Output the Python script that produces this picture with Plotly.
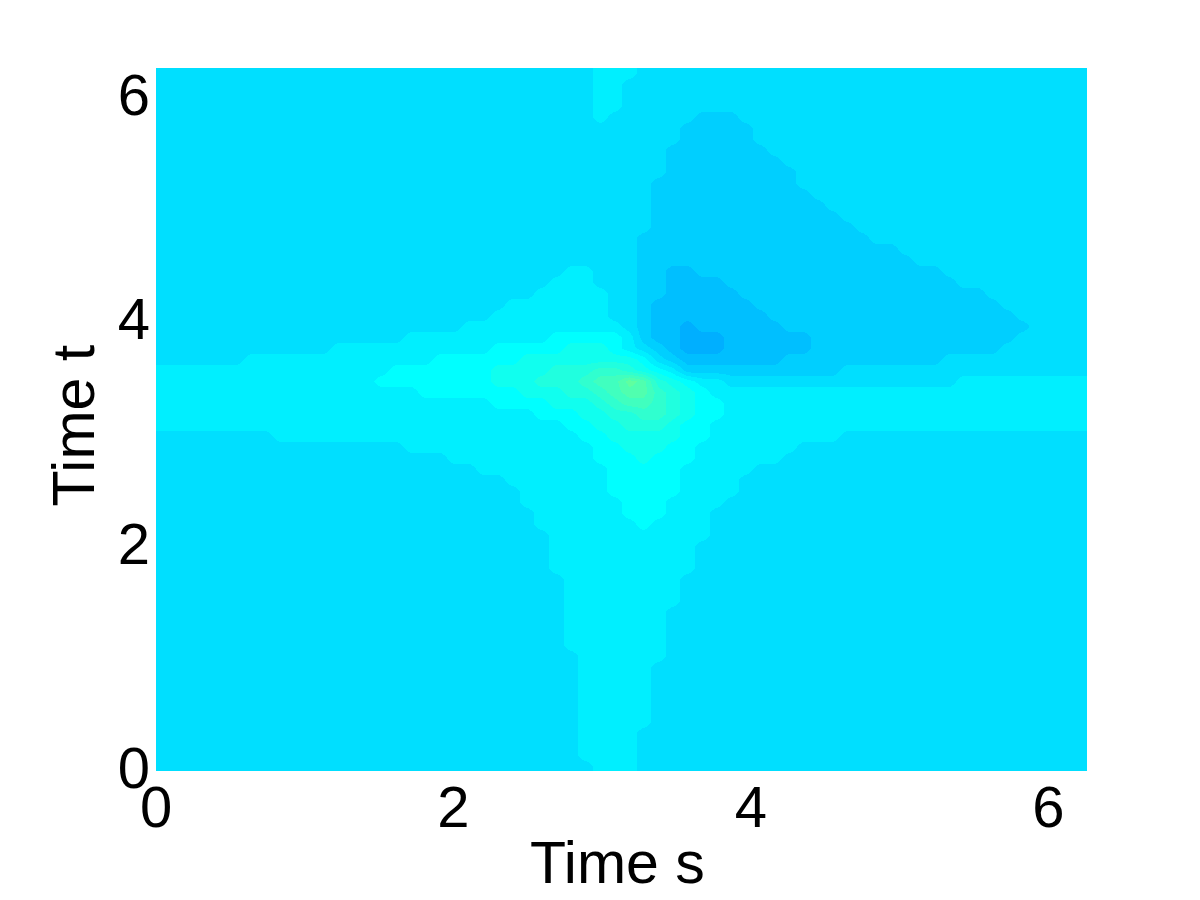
import plotly.graph_objects as go

TITLE_X = "Time s"
TITLE_Y = "Time t"
TICKS = [0, 2, 4, 6]
AXIS_MAX = 6.26
LEVEL_COLORS = {
    "a": "#00afff", "b": "#00bfff", "c": "#00cfff", "0": "#00dfff", "1": "#00efff",
    "2": "#00ffff", "3": "#10ffef", "4": "#20ffdf", "5": "#30ffcf", "6": "#40ffbf",
    "7": "#50ffaf", "8": "#60ff9f",
}
LEVEL_VALUES = {"a": -3, "b": -2, "c": -1, "0": 0, "1": 1, "2": 2, "3": 3, "4": 4,
                "5": 5, "6": 6, "7": 7, "8": 8}
Z = "00000000"
O = "11111111"
C = "cccccccc"
ROWS = [
    [Z, Z, Z, "00000011", "10000000", Z, Z, Z],
    [Z, Z, Z, "00000011", Z, Z, Z, Z],
    [Z, Z, Z, "00000011", Z, Z, Z, Z],
    [Z, Z, Z, "00000011", Z, Z, Z, Z],
    [Z, Z, Z, "00000010", "00000ccc", Z, Z, Z],
    [Z, Z, Z, Z, "0000cccc", "c0000000", Z, Z],
    [Z, Z, Z, Z, "0000cccc", "c0000000", Z, Z],
    [Z, Z, Z, Z, "000ccccc", "cc000000", Z, Z],
    [Z, Z, Z, Z, "000ccccc", "ccc00000", Z, Z],
    [Z, Z, Z, Z, "000ccccc", "cccc0000", Z, Z],
    [Z, Z, Z, Z, "00cccccc", "cccc0000", Z, Z],
    [Z, Z, Z, Z, "00cccccc", "ccccc000", Z, Z],
    [Z, Z, Z, Z, "00cccccc", "cccccc00", Z, Z],
    [Z, Z, Z, Z, "00cccccc", "ccccccc0", Z, Z],
    [Z, Z, Z, Z, "00cccccc", C, Z, Z],
    [Z, Z, Z, Z, "0ccccccc", C, "c0000000", Z],
    [Z, Z, Z, Z, "0ccccccc", C, "ccc00000", Z],
    [Z, Z, Z, Z, "0ccccccc", C, "cccc0000", Z],
    [Z, Z, Z, "00001100", "0ccbbccc", C, "cccccc00", Z],
    [Z, Z, Z, "00011100", "0ccbbbbc", C, "ccccccc0", Z],
    [Z, Z, Z, "00111110", "0ccbbbbb", C, C, "c0000000"],
    [Z, Z, Z, "11111110", "0cbbbbbb", "bccccccc", C, "cc000000"],
    [Z, Z, "00000001", "11111110", "0cbbbbbb", "bbcccccc", C, "ccc00000"],
    [Z, Z, "00000111", O, "0cbbabbb", "bbbccccc", C, "cccc0000"],
    [Z, Z, "01111111", "11122222", "1cbbaaab", "bbbbbccc", C, "ccc00000"],
    [Z, "00001111", "11111112", "22223332", "10cbaaab", "bbbbbccc", C, "cc000000"],
    ["00000011", O, "11122222", "23333333", "320cbbbb", "bbbccccc", "cccccc00", Z],
    [O, O, "22222223", "33344455", "4321cccc", "ccccccc0", Z, Z],
    [O, "11111112", "22222223", "33444566", "87432110", Z, "00000001", O],
    [O, O, "11222222", "23334456", "77543211", O, O, O],
    [O, O, "11111112", "22233345", "66543221", O, O, O],
    [O, O, O, "11222334", "45543221", O, O, O],
    [O, O, O, "11112233", "44432211", O, O, O],
    [Z, O, O, "11111223", "33332211", "11111110", Z, Z],
    [Z, Z, "01111111", "11111122", "33322111", "11110000", Z, Z],
    [Z, Z, "00001111", "11111122", "23222111", "11100000", Z, Z],
    [Z, Z, "00000011", "11111112", "22221111", "10000000", Z, Z],
    [Z, Z, Z, "11111112", "22221111", Z, Z, Z],
    [Z, Z, Z, "01111112", "22221111", Z, Z, Z],
    [Z, Z, Z, "01111111", "22211110", Z, Z, Z],
    [Z, Z, Z, "00111111", "22211100", Z, Z, Z],
    [Z, Z, Z, "00111111", "12111100", Z, Z, Z],
    [Z, Z, Z, "00011111", "11111100", Z, Z, Z],
    [Z, Z, Z, "00011111", "11111000", Z, Z, Z],
    [Z, Z, Z, "00011111", "11111000", Z, Z, Z],
    [Z, Z, Z, "00011111", "11111000", Z, Z, Z],
    [Z, Z, Z, "00001111", "11110000", Z, Z, Z],
    [Z, Z, Z, "00001111", "11110000", Z, Z, Z],
    [Z, Z, Z, "00001111", "11110000", Z, Z, Z],
    [Z, Z, Z, "00001111", "11100000", Z, Z, Z],
    [Z, Z, Z, "00001111", "11100000", Z, Z, Z],
    [Z, Z, Z, "00001111", "11100000", Z, Z, Z],
    [Z, Z, Z, "00001111", "11100000", Z, Z, Z],
    [Z, Z, Z, "00000111", "11100000", Z, Z, Z],
    [Z, Z, Z, "00000111", "11000000", Z, Z, Z],
    [Z, Z, Z, "00000111", "11000000", Z, Z, Z],
    [Z, Z, Z, "00000111", "11000000", Z, Z, Z],
    [Z, Z, Z, "00000111", "11000000", Z, Z, Z],
    [Z, Z, Z, "00000111", "11000000", Z, Z, Z],
    [Z, Z, Z, "00000111", "11000000", Z, Z, Z],
    [Z, Z, Z, "00000111", "10000000", Z, Z, Z],
    [Z, Z, Z, "00000111", "10000000", Z, Z, Z],
    [Z, Z, Z, "00000111", "10000000", Z, Z, Z],
    [Z, Z, Z, "00000011", "10000000", Z, Z, Z],
]

grid = ["".join(r) for r in ROWS][::-1]
z = [[LEVEL_VALUES[ch] for ch in row] for row in grid]
ncol, nrow = len(grid[0]), len(grid)
x = [(i + 0.5) * AXIS_MAX / ncol for i in range(ncol)]
y = [(j + 0.5) * AXIS_MAX / nrow for j in range(nrow)]

order = ["a", "b", "c", "0", "1", "2", "3", "4", "5", "6", "7", "8"]
n = len(order)
colorscale = []
for i, key in enumerate(order):
    colorscale.append([i / n, LEVEL_COLORS[key]])
    colorscale.append([(i + 1) / n, LEVEL_COLORS[key]])

fig = go.Figure(go.Heatmap(x=x, y=y, z=z, zsmooth="best", colorscale=colorscale,
                           zmin=-3.5, zmax=8.5, showscale=False, hoverinfo="skip"))
tick_font = dict(family="Liberation Sans, Arial, sans-serif", size=58, color="black")
title_font = dict(family="Liberation Sans, Arial, sans-serif", size=59, color="black")
fig.update_layout(width=1192, height=892, margin=dict(l=148, r=113, t=60, b=129),
                  paper_bgcolor="white", plot_bgcolor="white", font=tick_font, autosize=False)
fig.update_xaxes(range=[0, AXIS_MAX], tickvals=TICKS, ticktext=[str(t) for t in TICKS], ticks="",
                 showgrid=False, zeroline=False, showline=False, tickfont=tick_font,
                 ticklabelstandoff=-3)
fig.update_yaxes(range=[0, AXIS_MAX], tickvals=TICKS, ticktext=[str(t) for t in TICKS], ticks="",
                 showgrid=False, zeroline=False, showline=False, tickfont=tick_font,
                 ticklabelstandoff=5, ticklabelshift=-3)
fig.add_annotation(text=TITLE_X, xref="paper", yref="paper", x=0.4962, y=-0.131,
                   xanchor="center", yanchor="middle", showarrow=False, font=title_font)
fig.add_annotation(text=TITLE_Y, xref="paper", yref="paper", x=-0.0885, y=0.4908,
                   xanchor="center", yanchor="middle", showarrow=False, font=title_font,
                   textangle=-90)
fig.write_html("out.html")
